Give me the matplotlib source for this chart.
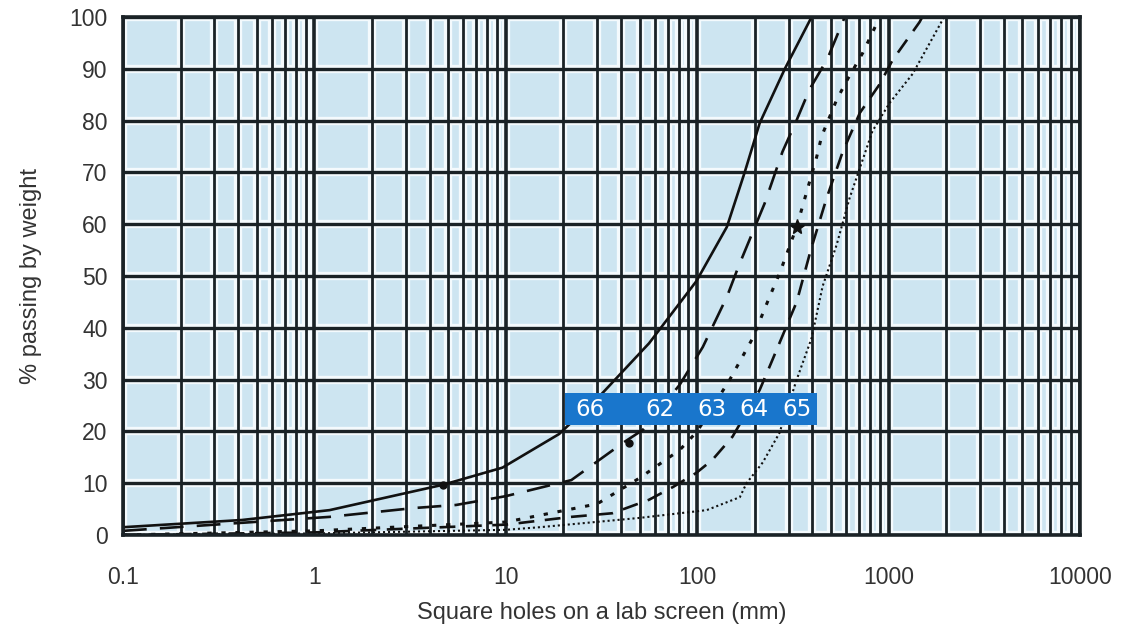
import matplotlib
matplotlib.use("Agg")
import matplotlib.pyplot as plt
from matplotlib.patches import Rectangle
import numpy as np

# ---- data ----
size_66 = [0.1, 0.42, 1.2, 4.7, 9.6, 19, 32, 56, 99, 143, 177, 212, 287, 396]
pass_66 = [1.5, 2.9, 4.8, 9.7, 13, 19.5, 27.4, 37, 49, 59.5, 70, 79.5, 90, 100]

size_62 = [0.1, 1.2, 3.3, 5.5, 10, 22, 41, 52, 81, 107, 143, 165, 225, 279, 330, 386, 480, 590]
pass_62 = [0.8, 3.5, 5.2, 5.8, 7.5, 10.6, 17.8, 20.3, 29, 36.3, 46, 52, 64, 74, 80, 86, 92, 100]

size_63 = [0.1, 1, 10, 30, 50, 81, 100, 148, 195, 239, 270, 331, 421, 447, 535, 611, 731, 900]
pass_63 = [0, 0.8, 2.5, 6, 11, 16.4, 20, 30, 38, 46, 50.6, 59.5, 73, 77, 84, 88, 93, 100]

size_64 = [0.1, 1, 10, 22, 36, 56, 75, 99, 120, 153, 212, 242, 331, 392, 474, 576, 708, 897, 1050, 1450, 1500]
pass_64 = [0, 0.5, 2, 3.5, 4.2, 6.8, 9.3, 12, 14.5, 19, 28, 33, 45, 55, 65, 74, 81.5, 87, 91.7, 99, 100]

size_65 = [0.1, 1, 10, 15, 50, 112, 167, 181, 220, 269, 331, 396, 452, 535, 625, 824, 1012, 1334, 1700, 1950]
pass_65 = [0, 0.3, 1, 1.5, 3.3, 4.8, 7.3, 10, 14, 19.7, 30, 38, 48, 56, 65, 78, 83.4, 89, 96, 100]

curve_names = ["66", "62", "63", "64", "65"]
label_x = [27.5, 63.7, 119, 197, 331]
label_y = 24.3
box_x = [20.3, 421]
box_y = [21.2, 27.4]

marker_pts_x = [4.7, 44]
marker_pts_y = [9.7, 17.8]
star_x = [331]
star_y = [59.5]

x_ticks = [0.1, 1, 10, 100, 1000, 10000]
x_tick_labels = ["0.1", "1", "10", "100", "1000", "10000"]
y_ticks = list(range(0, 101, 10))

# ---- figure ----
plt.rcParams['font.family'] = ['Liberation Sans', 'DejaVu Sans']
fig = plt.figure(figsize=(11.31, 6.34), dpi=100)
ax = fig.add_axes([123/1131, 99/634, 957/1131, 518/634])
ax.set_xscale('log')
ax.set_xlim(0.1, 10000)
ax.set_ylim(0, 100)
ax.set_facecolor('#cde5f1')

# grid with white halo
vlines = []
for d in range(-1, 4):
    for k in range(1, 10):
        vlines.append(k * 10.0 ** d)
vlines.append(10000.0)
for v in vlines:
    ax.axvline(v, color='#f4fafd', lw=6.0, zorder=1)
for h in y_ticks:
    ax.axhline(h, color='#f4fafd', lw=6.0, zorder=1)
for v in vlines:
    major = abs(np.log10(v) - round(np.log10(v))) < 1e-9
    ax.axvline(v, color='#1a2226', lw=2.6 if major else 2.0, zorder=2)
for h in y_ticks:
    ax.axhline(h, color='#1a2226', lw=2.4, zorder=2)

ink = '#111111'
ax.plot(size_66, pass_66, color=ink, lw=1.9, ls='-', zorder=3)
ax.plot(size_62, pass_62, color=ink, lw=1.9, dashes=(9, 5), zorder=3)
ax.plot(size_63, pass_63, color=ink, lw=2.2, dashes=(1.4, 3.2), zorder=3)
ax.plot(size_64, pass_64, color=ink, lw=1.9, dashes=(6, 4), zorder=3)
ax.plot(size_65, pass_65, color=ink, lw=1.5, dashes=(1, 1.4), zorder=3)
ax.plot(marker_pts_x, marker_pts_y, ls='none', marker='o', ms=5, color=ink, zorder=3)
ax.plot(star_x, star_y, ls='none', marker='*', ms=11, color=ink, zorder=3)

# blue label box
ax.add_patch(Rectangle((box_x[0], box_y[0]), box_x[1] - box_x[0], box_y[1] - box_y[0],
                       facecolor='#1976cc', edgecolor='none', zorder=4))
for name, lx in zip(curve_names, label_x):
    ax.text(lx, label_y, name, color='white', fontsize=16.5, ha='center', va='center',
            zorder=5, family=['DejaVu Sans'])

for s in ax.spines.values():
    s.set_linewidth(2.6)
    s.set_color('#1a2226')
    s.set_zorder(6)

ax.set_xticks(x_ticks)
ax.set_xticklabels(x_tick_labels)
ax.xaxis.set_minor_locator(matplotlib.ticker.NullLocator())
ax.set_yticks(y_ticks)
ax.tick_params(axis='both', length=0, labelsize=16.5, colors='#333333')
ax.tick_params(axis='y', pad=11)
ax.tick_params(axis='x', pad=22)
ax.set_xlabel('Square holes on a lab screen (mm)', fontsize=17, color='#333333', labelpad=10)
ax.set_ylabel('% passing by weight', fontsize=17, color='#333333', labelpad=20)

fig.savefig('out.png', dpi=100)
